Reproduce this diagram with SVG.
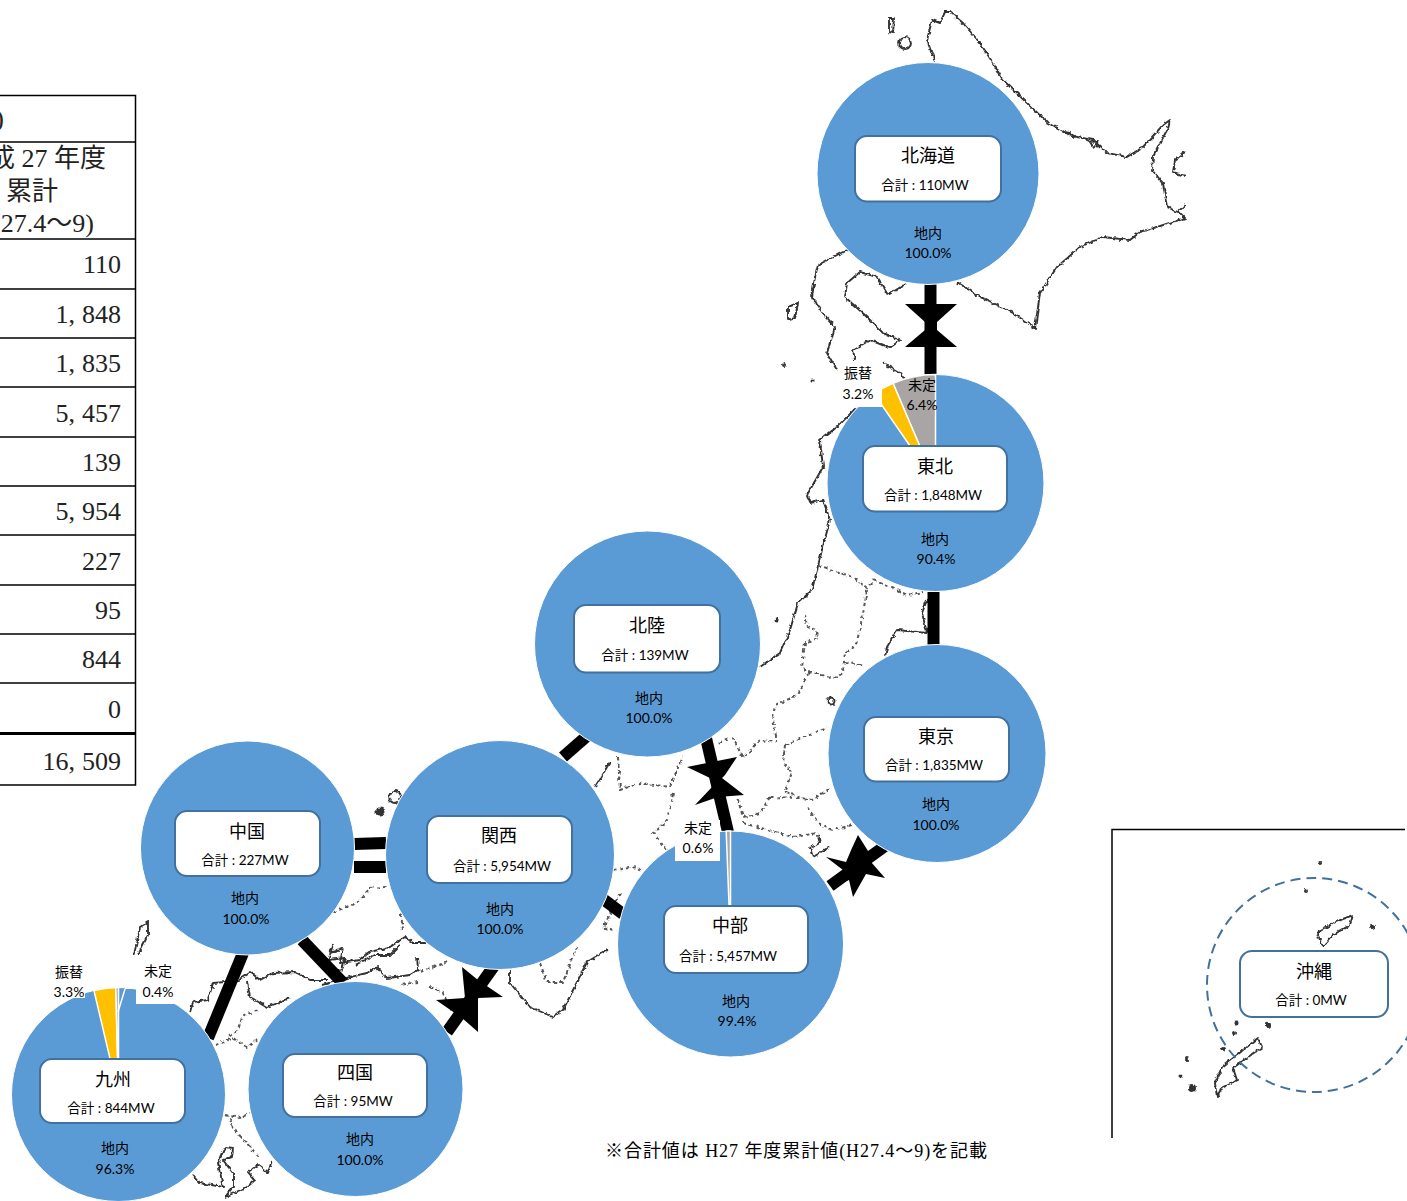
<svg xmlns="http://www.w3.org/2000/svg" width="1407" height="1201" viewBox="0 0 1407 1201">
<defs>
<filter id="soft" filterUnits="userSpaceOnUse" x="0" y="0" width="1407" height="1201">
<feTurbulence type="fractalNoise" baseFrequency="0.22" numOctaves="2" seed="4" result="n"/>
<feDisplacementMap in="SourceGraphic" in2="n" scale="4.500" xChannelSelector="R" yChannelSelector="G" result="d"/>
<feGaussianBlur in="d" stdDeviation="0.65"/>
</filter>
</defs>
<style>
text{font-family:"Lato","Noto Sans CJK JP",sans-serif;fill:#000;text-anchor:middle}
.t{font-size:18px}
.s{font-size:13.500px}
.l{font-size:14px}
.disc{fill:#5b9bd5;stroke:#fff;stroke-width:1}
.box{fill:#fff;stroke:#41719c;stroke-width:2}
.y{fill:#ffc000;stroke:#fff;stroke-width:1.5}
.g{fill:#a9a5a5;stroke:#fff;stroke-width:1.5}
.w{fill:#fff}
.coast{fill:none;stroke:#333;stroke-width:1.900;stroke-linejoin:round}
.pref{fill:none;stroke:#555;stroke-width:2;stroke-dasharray:3.500 3}
.dot{fill:#333}
.tb{stroke:#000;stroke-width:1.500;fill:none}
.n{font-family:"Liberation Serif","Noto Sans CJK JP",serif;font-size:26px;text-anchor:end;fill:#222}
.lk{stroke:#000;stroke-width:12;fill:none}
.star{fill:#000}
</style>

<g id="map" filter="url(#soft)">
<path class="coast" d="M935 62L927 40L932 20L940 23L945 12L950 12L963 23L980 43L993 63L1003 80L1027 103L1047 122L1063 131L1077 137L1093 140L1107 153L1127 157L1143 147L1163 125L1170 120L1168 128L1153 157L1152 170L1163 183L1167 207L1180 213L1185 218L1157 227L1140 232L1130 240L1103 237L1080 247L1057 267L1040 293L1035 328L1013 313L980 297L957 282"/>
<path class="coast" d="M1185 152L1175 160L1173 172L1185 176"/>
<path class="coast" d="M1185 205L1178 212"/>
<path class="coast" d="M1063 132L1075 138L1070 133ZM1090 142L1094 148L1098 141Z"/>
<path class="coast" d="M889 18L894 18L893 33L889 32Z"/>
<circle class="coast" cx="905" cy="43" r="6"/>
<path class="coast" d="M907 283L888 295L877 277L860 272L847 283L845 297L867 317L883 333L900 340L890 348L870 340L853 350L855 360"/>
<path class="coast" d="M847 250L837 255L818 265L815 277L812 297L822 312L835 327L827 353L837 370"/>
<path class="coast" d="M788 307L798 303L795 318L788 320Z"/>
<path class="coast" d="M883 363L900 373L905 380"/>
<path class="coast" d="M857 407L837 427L820 440L823 467L807 495L810 503L823 500L830 520L822 550L817 570L812 590L798 603L790 630L780 653L760 667"/>
<circle class="dot" cx="784" cy="365" r="2"/><circle class="dot" cx="813" cy="380" r="1.500"/><circle class="dot" cx="777" cy="620" r="2.500"/>
<path class="pref" d="M818 565L853 577L867 588L873 580L897 590L907 595L923 592"/>
<path class="pref" d="M867 590L863 613L860 630L855 647L845 653L843 673L835 678L808 672L802 667L805 643L818 638L817 630L807 627L805 615"/>
<path class="pref" d="M845 662L863 666"/>
<path class="pref" d="M808 673L798 695L775 705L773 718L777 742L760 740L743 758L733 738L717 743"/>
<path class="pref" d="M785 745L827 727"/>
<path class="pref" d="M785 745L783 763L792 772L785 792L802 798L812 800L832 787"/>
<path class="pref" d="M770 797L760 813L743 817L737 797M770 797L802 798"/>
<path class="pref" d="M807 807L820 825L833 830L852 825"/>
<path class="pref" d="M743 823L793 837L818 833"/>
<circle class="coast" cx="831" cy="701" r="3.500"/>
<path class="coast" d="M818 835L820 843L810 848L813 857L830 847"/>
<path class="coast" d="M927 600L922 613L927 633L897 630L887 647L885 657"/>
<path class="coast" d="M610 762L595 787"/>
<path class="pref" d="M618 757L620 790L640 783L670 787L677 770L683 757"/>
<path class="pref" d="M673 793L667 820L653 833L667 850"/>
<path class="pref" d="M613 870L637 867L650 880"/>
<path class="pref" d="M620 893L607 920L603 927L617 932"/>
<path class="coast" d="M607 950L587 962L563 1010L553 1017L530 1007L510 983L510 970"/>
<path class="pref" d="M540 963L547 982L563 982L577 947"/>
<path class="coast" d="M190 1012L193 1002L208 1000L213 983L225 982L238 980L250 972L260 980L273 973L295 972L310 980L327 980"/>
<path class="coast" d="M330 953L343 948L340 963L360 960L370 952L390 947L405 937L413 943L430 943"/>
<path class="coast" d="M333 945L328 960L345 958L342 970L330 975M355 965L375 955L390 955L400 945"/>
<path class="coast" d="M417 957L418 970L410 975L387 978L377 967L367 973L350 977L322 985"/>
<path class="coast" d="M247 982L250 997L267 1007L290 998"/>
<path class="pref" d="M258 1011L243 1015L238 1030L227 1038"/>
<path class="pref" d="M418 982L400 985M420 972L447 962M430 987L443 992L450 1010"/>
<path class="pref" d="M333 912L357 903L370 888L387 887"/>
<path class="pref" d="M400 907L403 930"/>
<path class="pref" d="M215 1045L233 1038L247 1047L257 1040"/>
<path class="pref" d="M225 1115L240 1118L250 1113M230 1118L233 1128L260 1158"/>
<path class="coast" d="M193 1175L200 1183L223 1187L218 1163L225 1147L233 1148L232 1157L223 1160L233 1173L233 1187L225 1197L247 1187L255 1180L248 1172L258 1165L268 1173L272 1160"/>
<path class="coast" d="M148 922L140 927L135 950L130 965L138 955L148 935Z"/>
<circle class="dot" cx="380" cy="812" r="4.500"/><circle class="coast" cx="395" cy="797" r="6"/>
<path class="coast" d="M1353 915L1333 923L1317 933L1323 947L1333 935L1350 925Z"/>
<path class="coast" d="M1258 1038L1262 1047L1233 1068L1237 1080L1223 1087L1217 1097L1215 1083L1222 1067L1247 1047Z"/>
<circle class="dot" cx="1320" cy="863" r="2"/><circle class="dot" cx="1306" cy="891" r="2"/><circle class="dot" cx="1372" cy="927" r="3"/>
<circle class="dot" cx="1237" cy="1023" r="2.500"/><circle class="dot" cx="1234" cy="1033" r="2"/><circle class="dot" cx="1268" cy="1025" r="3"/><circle class="dot" cx="1223" cy="1049" r="2"/><circle class="dot" cx="1187" cy="1059" r="2"/><circle class="dot" cx="1181" cy="1076" r="1.500"/><circle class="dot" cx="1192" cy="1088" r="4"/>
</g>

<g id="table">
<path class="tb" d="M0 95.500H135.500V785H0M0 142H135.500M0 239H135.500M0 289H135.500M0 338H135.500M0 387H135.500M0 437H135.500M0 486H135.500M0 535H135.500M0 585H135.500M0 634H135.500M0 683H135.500"/>
<path d="M0 733.500H135.500" stroke="#000" stroke-width="3" fill="none"/>
<text class="n" x="4" y="127">)</text>
<text class="n" x="106" y="167">成 27 年度</text>
<text class="n" x="58" y="200">累計</text>
<text class="n" x="94" y="232">27.4～9)</text>
<text class="n" x="121" y="273">110</text>
<text class="n" x="121" y="323">1,<tspan dx="7">848</tspan></text>
<text class="n" x="121" y="372">1,<tspan dx="7">835</tspan></text>
<text class="n" x="121" y="422">5,<tspan dx="7">457</tspan></text>
<text class="n" x="121" y="471">139</text>
<text class="n" x="121" y="520">5,<tspan dx="7">954</tspan></text>
<text class="n" x="121" y="570">227</text>
<text class="n" x="121" y="619">95</text>
<text class="n" x="121" y="668">844</text>
<text class="n" x="121" y="718">0</text>
<text class="n" x="121" y="770">16,<tspan dx="7">509</tspan></text>
</g>

<g id="inset-frame"><path class="tb" d="M1112 1138V829.500H1405"/></g>

<g id="connectors">
<path class="lk" d="M930.500 284V375"/>
<path class="lk" d="M933.500 592V645"/>
<path class="lk" d="M706 738L728 832"/>
<path class="lk" d="M885 846L830 886"/>
<path class="lk" d="M494 966L447 1032"/>
<path class="lk" d="M354 844L386 843M354 867L386 867"/>
<path class="lk" d="M587 736L563 757"/>
<path class="lk" d="M603 899L623 914"/>
<path class="lk" d="M243 953L208 1038"/>
<path class="lk" d="M302 940L343 983"/>
<polygon class="star" points="905,304 957,304 937,322 937,330 957,347 905,347 925,330 925,322"/>
<polygon class="star" points="687,767 707,763 737,757 725,775 722,778 744,795 718,797 695,805 712,787 710,778"/>
<polygon class="star" points="858,835 868,851 876,850 871,862 885,878 866,874 853,897 849,880 838,884 843,870 826,857 846,862 852,848"/>
<polygon class="star" points="462,967 478,980 503,997 478,998 478,1032 462,1018 436,1000 465,998"/>
</g>

<g id="node-hokkaido">
<circle class="disc" cx="928" cy="173.500" r="111"/>
<rect class="box" x="855" y="136" width="146" height="65.500" rx="12"/>
<text class="t" x="928" y="162">北海道</text>
<text class="s" x="925" y="190">合計 : 110MW</text>
<text class="l" x="928" y="238">地内</text>
<text class="l" x="928" y="258">100.0%</text>
</g>

<g id="node-tohoku">
<circle class="disc" cx="935.500" cy="483" r="108.500"/>
<path class="g" d="M935.500 483V374.500A108.500 108.500 0 0 0 893 383.200Z"/>
<path class="y" d="M935.500 483L893 383.200A108.500 108.500 0 0 0 874 393.600Z"/>
<rect class="w" x="842" y="362" width="40" height="45"/>
<rect class="box" x="863" y="446" width="144" height="65.500" rx="12"/>
<text class="t" x="935" y="473">東北</text>
<text class="s" x="933" y="500">合計 : 1,848MW</text>
<text class="l" x="935" y="544">地内</text>
<text class="l" x="936" y="564">90.4%</text>
<text class="l" x="858" y="378">振替</text>
<text class="l" x="858" y="399">3.2%</text>
<text class="l" x="922" y="390">未定</text>
<text class="l" x="922" y="410">6.4%</text>
</g>

<g id="node-tokyo">
<circle class="disc" cx="937" cy="753.500" r="109"/>
<rect class="box" x="864" y="717" width="145" height="64.500" rx="12"/>
<text class="t" x="936" y="743">東京</text>
<text class="s" x="934" y="770">合計 : 1,835MW</text>
<text class="l" x="936" y="809">地内</text>
<text class="l" x="936" y="830">100.0%</text>
</g>

<g id="node-hokuriku">
<circle class="disc" cx="647.500" cy="644" r="113"/>
<rect class="box" x="574" y="605" width="146" height="67.500" rx="12"/>
<text class="t" x="647" y="632">北陸</text>
<text class="s" x="645" y="660">合計 : 139MW</text>
<text class="l" x="649" y="703">地内</text>
<text class="l" x="649" y="723">100.0%</text>
</g>

<g id="node-chubu">
<circle class="disc" cx="730.500" cy="944" r="113"/>
<path class="g" d="M730.500 944V831A113 113 0 0 0 726.200 831.100Z"/>
<rect class="w" x="675" y="820" width="45" height="41"/>
<rect class="box" x="664" y="906" width="144" height="67" rx="12"/>
<text class="t" x="730" y="932">中部</text>
<text class="s" x="728" y="961">合計 : 5,457MW</text>
<text class="l" x="736" y="1006">地内</text>
<text class="l" x="737" y="1026">99.4%</text>
<text class="l" x="698" y="833">未定</text>
<text class="l" x="698" y="853">0.6%</text>
</g>

<g id="node-kansai">
<circle class="disc" cx="500" cy="855" r="114.500"/>
<rect class="box" x="427" y="816" width="145" height="67" rx="12"/>
<text class="t" x="499" y="842">関西</text>
<text class="s" x="502" y="871">合計 : 5,954MW</text>
<text class="l" x="500" y="914">地内</text>
<text class="l" x="500" y="934">100.0%</text>
</g>

<g id="node-chugoku">
<circle class="disc" cx="247.500" cy="848" r="107"/>
<rect class="box" x="175" y="811" width="145" height="65" rx="12"/>
<text class="t" x="247" y="838">中国</text>
<text class="s" x="245" y="865">合計 : 227MW</text>
<text class="l" x="245" y="903">地内</text>
<text class="l" x="246" y="924">100.0%</text>
</g>

<g id="node-shikoku">
<circle class="disc" cx="355.500" cy="1089" r="107.500"/>
<rect class="box" x="283" y="1054" width="144" height="63" rx="12"/>
<text class="t" x="355" y="1079">四国</text>
<text class="s" x="353" y="1106">合計 : 95MW</text>
<text class="l" x="360" y="1144">地内</text>
<text class="l" x="360" y="1165">100.0%</text>
</g>

<g id="node-kyushu">
<circle class="disc" cx="118.500" cy="1094.500" r="107"/>
<path class="y" d="M118.500 1094.500L115.800 987.500A107 107 0 0 0 93.900 990.400Z"/>
<path class="g" d="M118.500 1094.500V987.500A107 107 0 0 0 115.800 987.500Z"/>
<path d="M125 989L118 1012" stroke="#fff" stroke-width="1.500" fill="none"/>
<rect class="w" x="125" y="955" width="51" height="34"/>
<rect class="w" x="136" y="985" width="40" height="19"/>
<rect class="w" x="50" y="960" width="35" height="38"/>
<rect class="box" x="40" y="1059" width="145" height="64" rx="12"/>
<text class="t" x="113" y="1086">九州</text>
<text class="s" x="111" y="1113">合計 : 844MW</text>
<text class="l" x="115" y="1153">地内</text>
<text class="l" x="115" y="1174">96.3%</text>
<text class="l" x="69" y="977">振替</text>
<text class="l" x="69" y="997">3.3%</text>
<text class="l" x="158" y="976">未定</text>
<text class="l" x="158" y="997">0.4%</text>
</g>

<g id="node-okinawa">
<circle cx="1314" cy="985" r="107" fill="none" stroke="#41719c" stroke-width="2" stroke-dasharray="10 6"/>
<rect class="box" x="1240" y="951" width="148" height="66" rx="12"/>
<text class="t" x="1314" y="978">沖縄</text>
<text class="s" x="1311" y="1005">合計 : 0MW</text>
</g>

<text x="796" y="1157" style="font-family:'Liberation Serif','Noto Sans CJK JP',serif;font-size:18px" textLength="382" lengthAdjust="spacing">※合計値は H27 年度累計値(H27.4～9)を記載</text>
</svg>
